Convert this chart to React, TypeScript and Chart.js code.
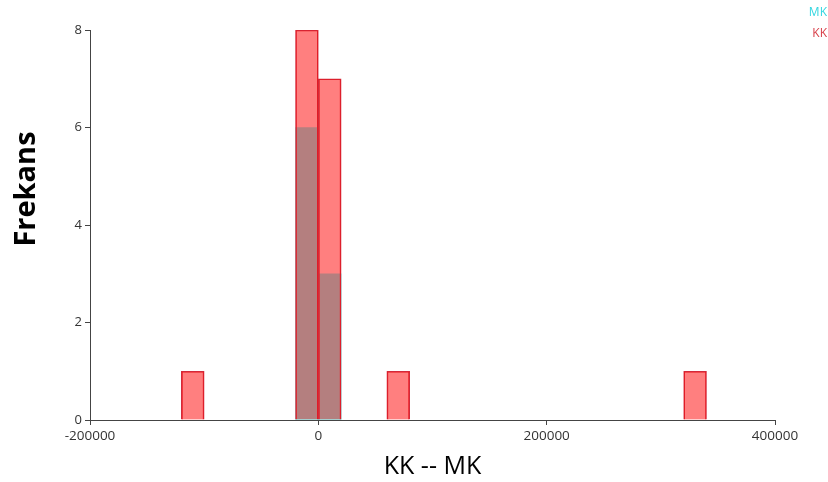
import React, { useEffect, useRef } from "react";
import { Chart, registerables } from "chart.js";

Chart.register(...registerables);

// Histogram bins (20 000 wide), given by bin centre
const kkBinCenters = [-110000, -10000, 10000, 70000, 330000];
const kkCounts = [1, 8, 7, 1, 1];
const mkBinCenters = [-10000, 10000];
const mkCounts = [6, 3];

const xTicks = [-200000, 0, 200000, 400000];
const yTicks = [0, 2, 4, 6, 8];

const seriesLabels = ["MK", "KK"];
const xTitle = "KK -- MK";
const yTitle = "Frekans";

const MK_FILL = "rgba(0, 255, 255, 0.59)";
const MK_TEXT = "#33d6e0";
const KK_FILL = "rgba(255, 0, 0, 0.5)";
const KK_BORDER = "#d22a3a";
const KK_TEXT = "#d8404a";

const sideTexts = {
  id: "sideTexts",
  afterDraw(chart: any) {
    const ctx = chart.ctx;
    ctx.save();
    // stacked legend in the top-right corner
    ctx.font = "12px 'Open Sans', sans-serif";
    ctx.textAlign = "right";
    ctx.textBaseline = "middle";
    ctx.fillStyle = MK_TEXT;
    ctx.fillText(seriesLabels[0], 827, 13);
    ctx.fillStyle = KK_TEXT;
    ctx.fillText(seriesLabels[1], 827, 34);
    // vertical axis title
    ctx.translate(27, 189);
    ctx.rotate(-Math.PI / 2);
    ctx.font = "bold 29px 'Open Sans', sans-serif";
    ctx.textAlign = "center";
    ctx.fillStyle = "#000";
    ctx.fillText(yTitle, 0, 0);
    ctx.restore();
  },
};

export default function App() {
  const canvasRef = useRef<HTMLCanvasElement | null>(null);

  useEffect(() => {
    const canvas = canvasRef.current;
    if (!canvas) return;
    const chart = new Chart(canvas, {
      type: "bar",
      data: {
        datasets: [
          {
            label: seriesLabels[1],
            data: kkBinCenters.map((x, i) => ({ x, y: kkCounts[i] })),
            backgroundColor: KK_FILL,
            borderColor: KK_BORDER,
            borderWidth: 1,
            grouped: false,
            order: 0,
            barPercentage: 1,
            categoryPercentage: 1,
          },
          {
            label: seriesLabels[0],
            data: mkBinCenters.map((x, i) => ({ x, y: mkCounts[i] })),
            backgroundColor: MK_FILL,
            borderWidth: 0,
            grouped: false,
            order: 1,
            barPercentage: 1,
            categoryPercentage: 1,
          },
        ],
      },
      plugins: [sideTexts],
      options: {
        animation: false,
        responsive: false,
        maintainAspectRatio: false,
        layout: { padding: { top: 30, right: 53, left: 0, bottom: 0 } },
        plugins: {
          legend: { display: false },
          tooltip: { enabled: false },
        },
        scales: {
          x: {
            type: "linear",
            min: -200000,
            max: 400000,
            offset: false,
            afterFit(scale: any) {
              scale.height = 62;
            },
            afterBuildTicks(scale: any) {
              scale.ticks = xTicks.map((v) => ({ value: v }));
            },
            ticks: {
              color: "#333",
              font: { family: "'Open Sans', sans-serif", size: 13.5 },
              padding: 3,
              maxRotation: 0,
              autoSkip: false,
              callback: (v: any) => String(v),
            },
            grid: {
              offset: false,
              drawOnChartArea: false,
              drawTicks: true,
              tickLength: 5,
              color: "#444",
            },
            border: { display: true, color: "#444", width: 1 },
            title: {
              display: true,
              text: xTitle,
              color: "#000",
              font: { family: "'Open Sans', sans-serif", size: 25 },
              padding: { top: 1, bottom: 0 },
            },
          },
          y: {
            min: 0,
            max: 8,
            afterFit(scale: any) {
              scale.width = 90;
            },
            afterBuildTicks(scale: any) {
              scale.ticks = yTicks.map((v) => ({ value: v }));
            },
            ticks: {
              color: "#333",
              font: { family: "'Open Sans', sans-serif", size: 13 },
              padding: 3,
            },
            grid: {
              offset: false,
              drawOnChartArea: false,
              drawTicks: true,
              tickLength: 5,
              color: "#444",
            },
            border: { display: true, color: "#444", width: 1 },
          },
        },
      },
    });
    return () => chart.destroy();
  }, []);

  return (
    <div style={{ position: "absolute", left: 0, top: 0, width: 828, height: 482, background: "#fff" }}>
      <canvas ref={canvasRef} width={828} height={482} />
    </div>
  );
}
